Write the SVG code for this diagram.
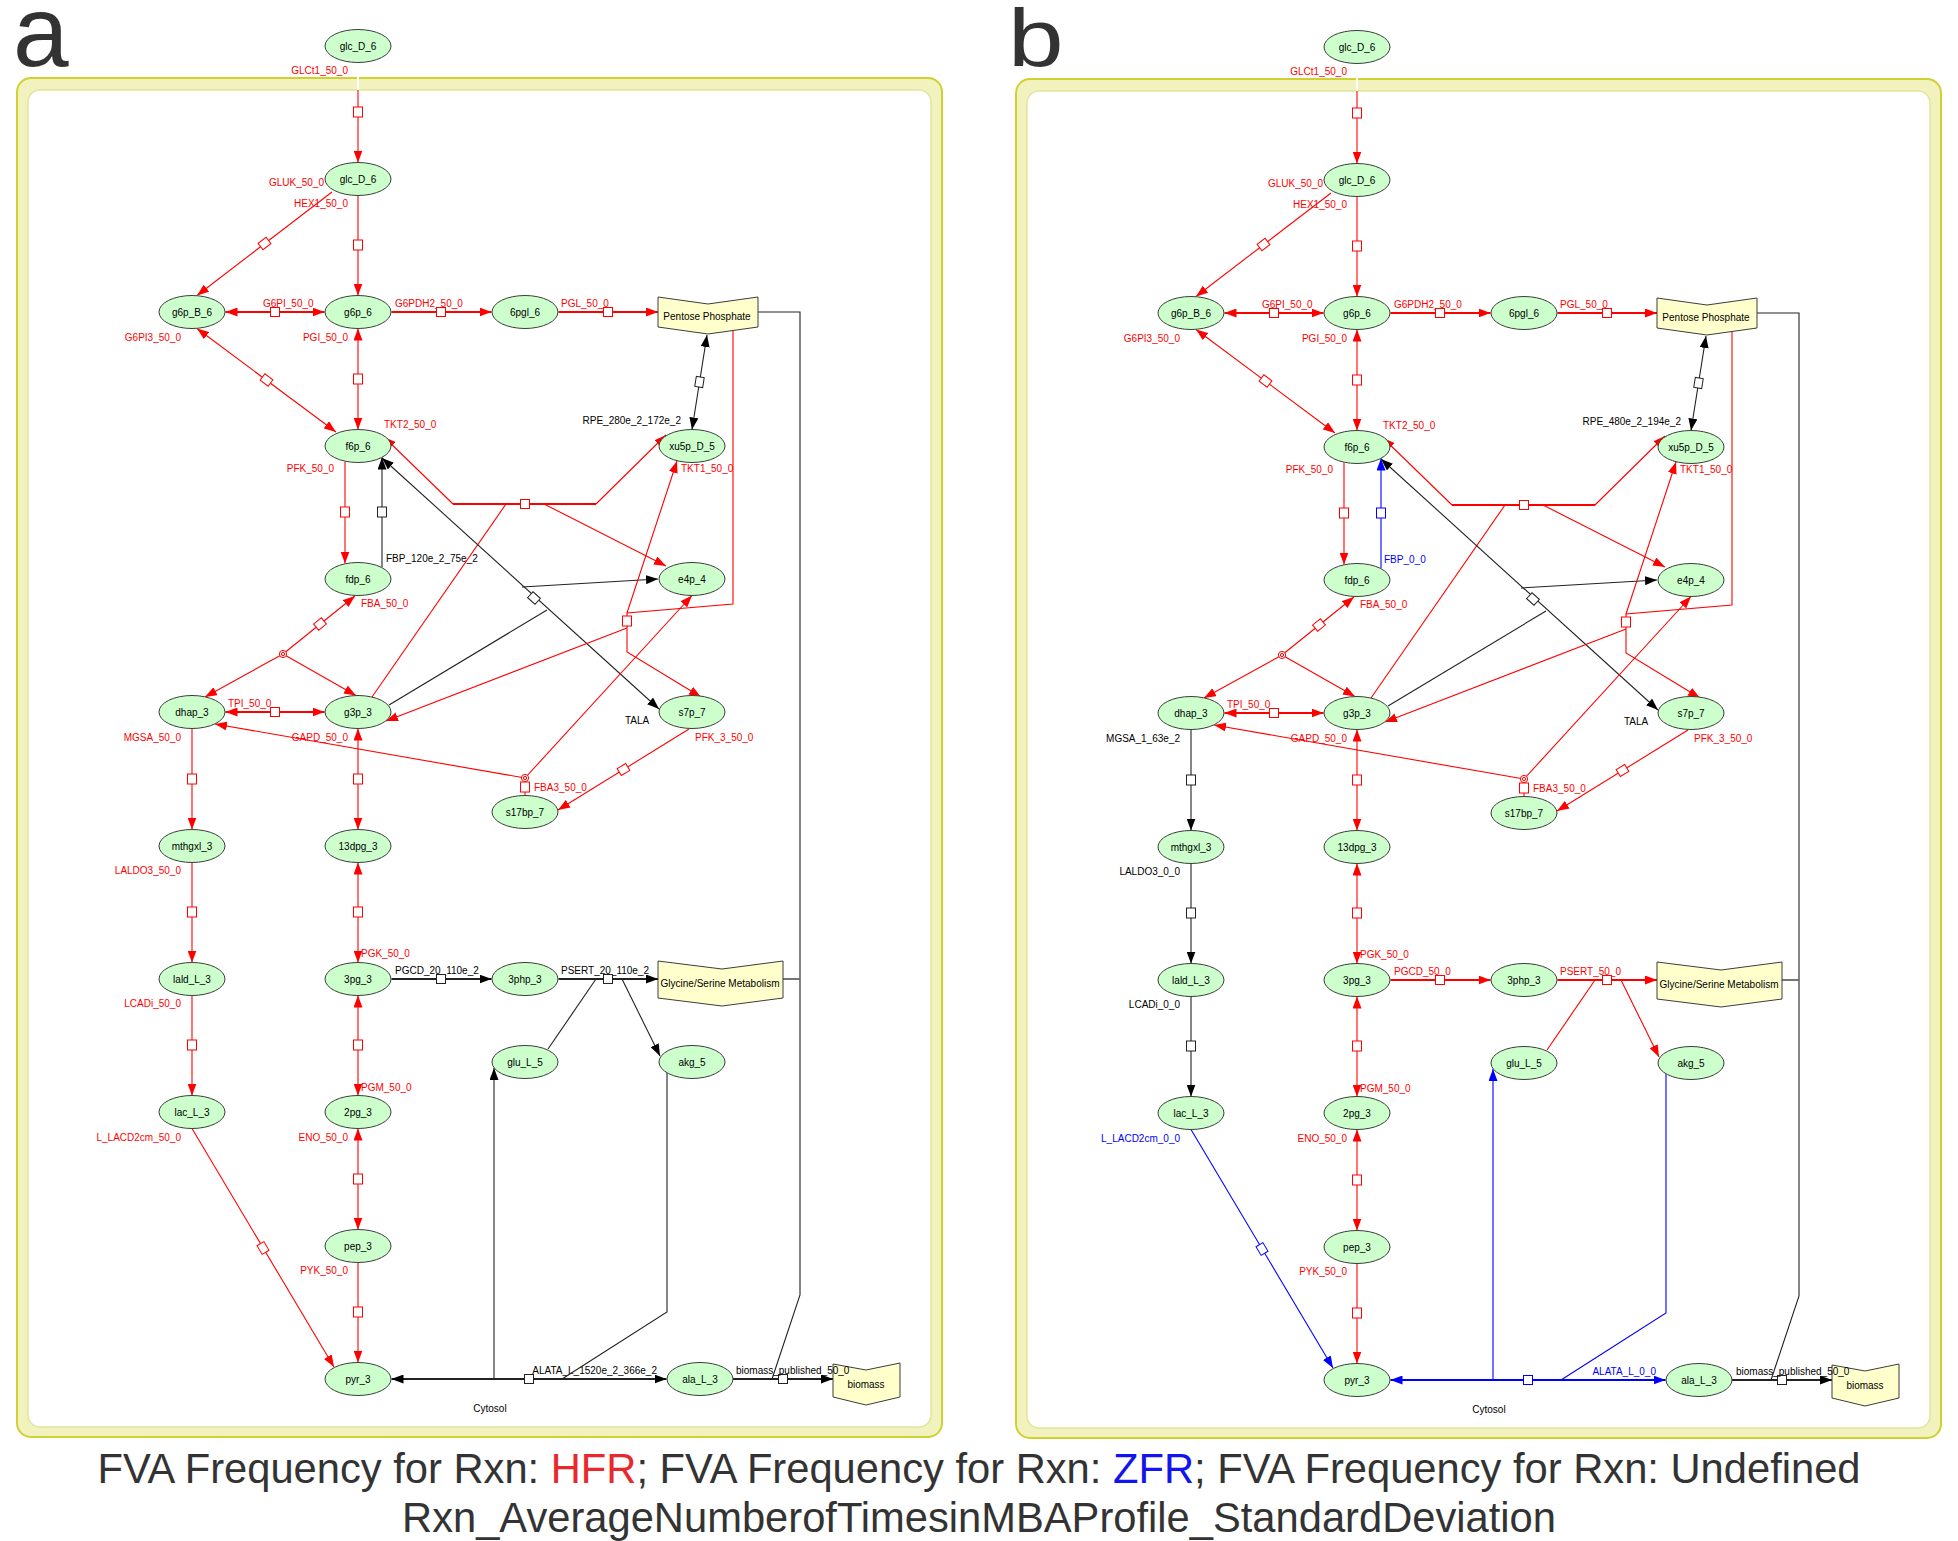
<svg xmlns="http://www.w3.org/2000/svg" width="1958" height="1541" viewBox="0 0 1958 1541">
<defs>
<style>
text{font-family:'Liberation Sans',Arial,Helvetica,sans-serif}
.n{fill:#ccffcc;stroke:#3c3c3c;stroke-width:1}
.s{fill:#ffffcc;stroke:#3c3c3c;stroke-width:1}
.t{font-size:10px;text-anchor:middle;fill:#000}
.l{font-size:10px;fill:#f00}
.e{text-anchor:end}
.lk{fill:#000}
.lb{fill:#00f}
.c{fill:none;stroke-width:1.1}
.r{stroke:#f00}
.k{stroke:#222}
.u{stroke:#00f}
.g{stroke:#666}
.w{stroke-width:1.8}
.x{fill:#fff;stroke-width:1}
.ci{fill:#fff;stroke:#f00;stroke-width:1}
.o1{fill:#f2f2be;stroke:#d0d030;stroke-width:2}
.o2{fill:#fff;stroke:#e4e49c;stroke-width:1.5}
</style>
<marker id="mr" viewBox="0 0 12 9" refX="12" refY="4.5" markerWidth="12" markerHeight="9" markerUnits="userSpaceOnUse" orient="auto-start-reverse"><path d="M0,0L12,4.5L0,9z" fill="#f00"/></marker>
<marker id="mk" viewBox="0 0 12 9" refX="12" refY="4.5" markerWidth="12" markerHeight="9" markerUnits="userSpaceOnUse" orient="auto-start-reverse"><path d="M0,0L12,4.5L0,9z" fill="#000"/></marker>
<marker id="mu" viewBox="0 0 12 9" refX="12" refY="4.5" markerWidth="12" markerHeight="9" markerUnits="userSpaceOnUse" orient="auto-start-reverse"><path d="M0,0L12,4.5L0,9z" fill="#00f"/></marker>
</defs>
<rect width="1958" height="1541" fill="#fff"/>

<!-- ================= PANEL A ================= -->
<g id="panel-a">
<text x="13" y="66" font-size="100" fill="#333">a</text>
<g id="a-cytosol">
<rect class="o1" x="17" y="78" width="925" height="1359" rx="14"/>
<rect class="o2" x="28" y="90" width="903" height="1337" rx="12"/>
<text class="t" x="490" y="1412">Cytosol</text>
</g>
<g id="a-labels">
<text class="l e" x="348" y="74">GLCt1_50_0</text>
<text class="l e" x="324" y="186">GLUK_50_0</text>
<text class="l e" x="348" y="207">HEX1_50_0</text>
<text class="l" x="263" y="307">G6PI_50_0</text>
<text class="l" x="395" y="307">G6PDH2_50_0</text>
<text class="l" x="561" y="307">PGL_50_0</text>
<text class="l e" x="181" y="341">G6PI3_50_0</text>
<text class="l e" x="348" y="341">PGI_50_0</text>
<text class="l" x="384" y="428">TKT2_50_0</text>
<text class="l lk e" x="681" y="424">RPE_280e_2_172e_2</text>
<text class="l" x="681" y="472">TKT1_50_0</text>
<text class="l e" x="334" y="472">PFK_50_0</text>
<text class="l lk" x="386" y="562">FBP_120e_2_75e_2</text>
<text class="l" x="361" y="607">FBA_50_0</text>
<text class="l" x="228" y="707">TPI_50_0</text>
<text class="l e" x="181" y="741">MGSA_50_0</text>
<text class="l e" x="348" y="741">GAPD_50_0</text>
<text class="l lk" x="625" y="724">TALA</text>
<text class="l" x="695" y="741">PFK_3_50_0</text>
<text class="l" x="534" y="791">FBA3_50_0</text>
<text class="l e" x="181" y="874">LALDO3_50_0</text>
<text class="l" x="361" y="957">PGK_50_0</text>
<text class="l lk" x="395" y="974">PGCD_20_110e_2</text>
<text class="l lk" x="561" y="974">PSERT_20_110e_2</text>
<text class="l e" x="181" y="1007">LCADi_50_0</text>
<text class="l" x="361" y="1091">PGM_50_0</text>
<text class="l e" x="181" y="1141">L_LACD2cm_50_0</text>
<text class="l e" x="348" y="1141">ENO_50_0</text>
<text class="l e" x="348" y="1274">PYK_50_0</text>
<text class="l lk e" x="657" y="1374">ALATA_L_1520e_2_366e_2</text>
</g>
<g id="a-connectors">
<path d="M358,62V90" stroke="#fff" stroke-width="2"/>
<path class="c r" d="M358,90V162.5" marker-end="url(#mr)"/><rect class="x r" x="353.5" y="107" width="9" height="10"/>
<path class="c r" d="M332,192L197,295.5" marker-end="url(#mr)"/><rect class="x r" x="-5" y="-4" width="10" height="8" transform="translate(264.5,243.5) rotate(142.7)"/>
<path class="c r" d="M358,195.5V295.5" marker-end="url(#mr)"/><rect class="x r" x="353.5" y="240" width="9" height="10"/>
<path class="c r w" d="M225.5,312H324.5" marker-start="url(#mr)" marker-end="url(#mr)"/><rect class="x r" x="270.5" y="307.5" width="9" height="9"/>
<path class="c r w" d="M391.5,312H491.5" marker-end="url(#mr)"/><rect class="x r" x="436.5" y="307.5" width="9" height="9"/>
<path class="c r w" d="M558.5,312H658" marker-end="url(#mr)"/><rect class="x r" x="603.5" y="307.5" width="9" height="9"/>
<path class="c r" d="M197,328.5L336,432" marker-start="url(#mr)" marker-end="url(#mr)"/><rect class="x r" x="-5" y="-4" width="10" height="8" transform="translate(266.5,380) rotate(36.7)"/>
<path class="c r" d="M358,328.5V429.5" marker-start="url(#mr)" marker-end="url(#mr)"/><rect class="x r" x="353.5" y="374" width="9" height="10"/>
<path class="c k" d="M707,335L692,429.5" marker-start="url(#mk)" marker-end="url(#mk)"/><rect class="x k" x="-5" y="-4" width="10" height="8" transform="translate(699.5,382) rotate(99)"/>
<path class="c r" d="M453,504L384,437" marker-end="url(#mr)"/>
<path class="c r w" d="M453,504H596"/>
<path class="c r" d="M596,504L666,435" marker-end="url(#mr)"/>
<path class="c r" d="M506,504L372,697"/>
<path class="c r" d="M544,504L666,566" marker-end="url(#mr)"/>
<rect class="x r" x="520.5" y="499.5" width="9" height="9"/>
<path class="c k" d="M382,458L659,709" marker-start="url(#mk)" marker-end="url(#mk)"/>
<path class="c k" d="M547,610L389,705"/>
<path class="c k" d="M522,587L658,579" stroke-width="1.5" marker-end="url(#mk)"/>
<rect class="x k" x="-5" y="-4" width="10" height="8" transform="translate(534,598) rotate(42.2)"/>
<path class="c r" d="M733,330.5V604L627,613V652L701,697" marker-end="url(#mr)"/>
<path class="c r" d="M627,613L677,461" marker-end="url(#mr)"/>
<path class="c r" d="M627,628L386,721" marker-end="url(#mr)"/>
<rect class="x r" x="622.5" y="616" width="9" height="10"/>
<path class="c r" d="M345,461.5V563.5" marker-end="url(#mr)"/><rect class="x r" x="340.5" y="507" width="9" height="10"/>
<path class="c k" d="M382,567.5V457.5" marker-end="url(#mk)"/><rect class="x k" x="377.5" y="507" width="9" height="10"/>
<path class="c r" d="M283,654L355,596" marker-end="url(#mr)"/>
<path class="c r" d="M283,654L205,697" marker-end="url(#mr)"/>
<path class="c r" d="M283,654L356,695.5" marker-end="url(#mr)"/>
<rect class="x r" x="-5" y="-4" width="10" height="8" transform="translate(320,624) rotate(-38.9)"/>
<circle class="ci" cx="283" cy="654" r="3.6"/><circle class="ci" cx="283" cy="654" r="1.6"/>
<path class="c r" d="M525,795.5V778"/>
<path class="c r" d="M525,778L215,724" marker-end="url(#mr)"/>
<path class="c r" d="M525,778L692,595.5" marker-end="url(#mr)"/>
<rect class="x r" x="520.5" y="782" width="9" height="10"/>
<circle class="ci" cx="525" cy="778" r="3.6"/><circle class="ci" cx="525" cy="778" r="1.6"/>
<path class="c r" d="M689,729L558,810" marker-end="url(#mr)"/><rect class="x r" x="-5" y="-4" width="10" height="8" transform="translate(623.5,769.5) rotate(148.6)"/>
<path class="c r w" d="M225.5,712H324.5" marker-start="url(#mr)" marker-end="url(#mr)"/><rect class="x r" x="270.5" y="707.5" width="9" height="9"/>
<path class="c r" d="M192,728.5V829.5" marker-end="url(#mr)"/><rect class="x r" x="187.5" y="774" width="9" height="10"/>
<path class="c r" d="M358,728.5V829.5" marker-start="url(#mr)" marker-end="url(#mr)"/><rect class="x r" x="353.5" y="774" width="9" height="10"/>
<path class="c r" d="M192,862.5V962.5" marker-end="url(#mr)"/><rect class="x r" x="187.5" y="907" width="9" height="10"/>
<path class="c r" d="M358,862.5V962.5" marker-start="url(#mr)" marker-end="url(#mr)"/><rect class="x r" x="353.5" y="907" width="9" height="10"/>
<path class="c k w" d="M391.5,979H491.5" marker-end="url(#mk)"/><rect class="x k" x="436.5" y="974.5" width="9" height="9"/>
<path class="c k w" d="M558.5,979H658" marker-end="url(#mk)"/>
<path class="c k" d="M548,1049L596,979"/>
<path class="c k" d="M622,979L660,1056" marker-end="url(#mk)"/>
<rect class="x k" x="603.5" y="974.5" width="9" height="9"/>
<path class="c r" d="M192,995.5V1095.5" marker-end="url(#mr)"/><rect class="x r" x="187.5" y="1040" width="9" height="10"/>
<path class="c r" d="M358,995.5V1095.5" marker-start="url(#mr)" marker-end="url(#mr)"/><rect class="x r" x="353.5" y="1040" width="9" height="10"/>
<path class="c r" d="M192,1128.5L334,1367" marker-end="url(#mr)"/><rect class="x r" x="-5" y="-4" width="10" height="8" transform="translate(263,1248) rotate(59.2)"/>
<path class="c r" d="M358,1128.5V1229.5" marker-start="url(#mr)" marker-end="url(#mr)"/><rect class="x r" x="353.5" y="1174" width="9" height="10"/>
<path class="c r" d="M358,1262.5V1362.5" marker-end="url(#mr)"/><rect class="x r" x="353.5" y="1307" width="9" height="10"/>
<path class="c k w" d="M391.5,1379H666.5" marker-start="url(#mk)" marker-end="url(#mk)"/>
<path class="c k" d="M494,1379V1068" marker-end="url(#mk)"/>
<path class="c k" d="M667,1073V1312L562,1379"/>
<rect class="x k" x="524.5" y="1374.5" width="9" height="9"/>
<path class="c k w" d="M733,1379H833" marker-end="url(#mk)"/>
<path class="c k" d="M758,312H800V1295L772,1379"/>
<path class="c g w" d="M783,979H800"/>
<rect class="x k" x="778.5" y="1374.5" width="9" height="9"/>
</g>
<g id="a-glc_D_6-e"><ellipse class="n" cx="358" cy="46" rx="33" ry="16.5"/><text class="t" x="358" y="49.5">glc_D_6</text></g>
<g id="a-glc_D_6"><ellipse class="n" cx="358" cy="179" rx="33" ry="16.5"/><text class="t" x="358" y="182.5">glc_D_6</text></g>
<g id="a-g6p_B_6"><ellipse class="n" cx="192" cy="312" rx="33" ry="16.5"/><text class="t" x="192" y="315.5">g6p_B_6</text></g>
<g id="a-g6p_6"><ellipse class="n" cx="358" cy="312" rx="33" ry="16.5"/><text class="t" x="358" y="315.5">g6p_6</text></g>
<g id="a-6pgl_6"><ellipse class="n" cx="525" cy="312" rx="33" ry="16.5"/><text class="t" x="525" y="315.5">6pgl_6</text></g>
<g id="a-pentose"><polygon class="s" points="658,297 708,304 758,297 758,327 708,334 658,327"/><text class="t" x="707" y="320">Pentose Phosphate</text></g>
<g id="a-f6p_6"><ellipse class="n" cx="358" cy="446" rx="33" ry="16.5"/><text class="t" x="358" y="449.5">f6p_6</text></g>
<g id="a-xu5p_D_5"><ellipse class="n" cx="692" cy="446" rx="33" ry="16.5"/><text class="t" x="692" y="449.5">xu5p_D_5</text></g>
<g id="a-fdp_6"><ellipse class="n" cx="358" cy="579" rx="33" ry="16.5"/><text class="t" x="358" y="582.5">fdp_6</text></g>
<g id="a-e4p_4"><ellipse class="n" cx="692" cy="579" rx="33" ry="16.5"/><text class="t" x="692" y="582.5">e4p_4</text></g>
<g id="a-dhap_3"><ellipse class="n" cx="192" cy="712" rx="33" ry="16.5"/><text class="t" x="192" y="715.5">dhap_3</text></g>
<g id="a-g3p_3"><ellipse class="n" cx="358" cy="712" rx="33" ry="16.5"/><text class="t" x="358" y="715.5">g3p_3</text></g>
<g id="a-s7p_7"><ellipse class="n" cx="692" cy="712" rx="33" ry="16.5"/><text class="t" x="692" y="715.5">s7p_7</text></g>
<g id="a-s17bp_7"><ellipse class="n" cx="525" cy="812" rx="33" ry="16.5"/><text class="t" x="525" y="815.5">s17bp_7</text></g>
<g id="a-mthgxl_3"><ellipse class="n" cx="192" cy="846" rx="33" ry="16.5"/><text class="t" x="192" y="849.5">mthgxl_3</text></g>
<g id="a-13dpg_3"><ellipse class="n" cx="358" cy="846" rx="33" ry="16.5"/><text class="t" x="358" y="849.5">13dpg_3</text></g>
<g id="a-lald_L_3"><ellipse class="n" cx="192" cy="979" rx="33" ry="16.5"/><text class="t" x="192" y="982.5">lald_L_3</text></g>
<g id="a-3pg_3"><ellipse class="n" cx="358" cy="979" rx="33" ry="16.5"/><text class="t" x="358" y="982.5">3pg_3</text></g>
<g id="a-3php_3"><ellipse class="n" cx="525" cy="979" rx="33" ry="16.5"/><text class="t" x="525" y="982.5">3php_3</text></g>
<g id="a-glyser"><polygon class="s" points="658,961 722,969 783,961 783,998 722,1006 658,998"/><text class="t" x="720" y="987">Glycine/Serine Metabolism</text></g>
<g id="a-glu_L_5"><ellipse class="n" cx="525" cy="1062" rx="33" ry="16.5"/><text class="t" x="525" y="1065.5">glu_L_5</text></g>
<g id="a-akg_5"><ellipse class="n" cx="692" cy="1062" rx="33" ry="16.5"/><text class="t" x="692" y="1065.5">akg_5</text></g>
<g id="a-lac_L_3"><ellipse class="n" cx="192" cy="1112" rx="33" ry="16.5"/><text class="t" x="192" y="1115.5">lac_L_3</text></g>
<g id="a-2pg_3"><ellipse class="n" cx="358" cy="1112" rx="33" ry="16.5"/><text class="t" x="358" y="1115.5">2pg_3</text></g>
<g id="a-pep_3"><ellipse class="n" cx="358" cy="1246" rx="33" ry="16.5"/><text class="t" x="358" y="1249.5">pep_3</text></g>
<g id="a-pyr_3"><ellipse class="n" cx="358" cy="1379" rx="33" ry="16.5"/><text class="t" x="358" y="1382.5">pyr_3</text></g>
<g id="a-ala_L_3"><ellipse class="n" cx="700" cy="1379" rx="33" ry="16.5"/><text class="t" x="700" y="1382.5">ala_L_3</text></g>
<g id="a-biomass"><polygon class="s" points="833,1364 866,1370 900,1363 900,1397 866,1405 833,1397"/><text class="t" x="866" y="1388">biomass</text></g>
<text class="l lk" x="736" y="1374">biomass_published_50_0</text>
</g>

<!-- ================= PANEL B ================= -->
<g id="panel-b" transform="translate(999,1)">
<text transform="translate(9,65) scale(1,0.82)" font-size="100" fill="#333">b</text>
<g id="b-cytosol">
<rect class="o1" x="17" y="78" width="925" height="1359" rx="14"/>
<rect class="o2" x="28" y="90" width="903" height="1337" rx="12"/>
<text class="t" x="490" y="1412">Cytosol</text>
</g>
<g id="b-labels">
<text class="l e" x="348" y="74">GLCt1_50_0</text>
<text class="l e" x="324" y="186">GLUK_50_0</text>
<text class="l e" x="348" y="207">HEX1_50_0</text>
<text class="l" x="263" y="307">G6PI_50_0</text>
<text class="l" x="395" y="307">G6PDH2_50_0</text>
<text class="l" x="561" y="307">PGL_50_0</text>
<text class="l e" x="181" y="341">G6PI3_50_0</text>
<text class="l e" x="348" y="341">PGI_50_0</text>
<text class="l" x="384" y="428">TKT2_50_0</text>
<text class="l lk e" x="682" y="424">RPE_480e_2_194e_2</text>
<text class="l" x="681" y="472">TKT1_50_0</text>
<text class="l e" x="334" y="472">PFK_50_0</text>
<text class="l lb" x="385" y="562">FBP_0_0</text>
<text class="l" x="361" y="607">FBA_50_0</text>
<text class="l" x="228" y="707">TPI_50_0</text>
<text class="l lk e" x="181" y="741">MGSA_1_63e_2</text>
<text class="l e" x="348" y="741">GAPD_50_0</text>
<text class="l lk" x="625" y="724">TALA</text>
<text class="l" x="695" y="741">PFK_3_50_0</text>
<text class="l" x="534" y="791">FBA3_50_0</text>
<text class="l lk e" x="181" y="874">LALDO3_0_0</text>
<text class="l" x="361" y="957">PGK_50_0</text>
<text class="l" x="395" y="974">PGCD_50_0</text>
<text class="l" x="561" y="974">PSERT_50_0</text>
<text class="l lk e" x="181" y="1007">LCADi_0_0</text>
<text class="l" x="361" y="1091">PGM_50_0</text>
<text class="l lb e" x="181" y="1141">L_LACD2cm_0_0</text>
<text class="l e" x="348" y="1141">ENO_50_0</text>
<text class="l e" x="348" y="1274">PYK_50_0</text>
<text class="l lb e" x="657" y="1374">ALATA_L_0_0</text>
</g>
<g id="b-connectors">
<path d="M358,62V90" stroke="#fff" stroke-width="2"/>
<path class="c r" d="M358,90V162.5" marker-end="url(#mr)"/><rect class="x r" x="353.5" y="107" width="9" height="10"/>
<path class="c r" d="M332,192L197,295.5" marker-end="url(#mr)"/><rect class="x r" x="-5" y="-4" width="10" height="8" transform="translate(264.5,243.5) rotate(142.7)"/>
<path class="c r" d="M358,195.5V295.5" marker-end="url(#mr)"/><rect class="x r" x="353.5" y="240" width="9" height="10"/>
<path class="c r w" d="M225.5,312H324.5" marker-start="url(#mr)" marker-end="url(#mr)"/><rect class="x r" x="270.5" y="307.5" width="9" height="9"/>
<path class="c r w" d="M391.5,312H491.5" marker-end="url(#mr)"/><rect class="x r" x="436.5" y="307.5" width="9" height="9"/>
<path class="c r w" d="M558.5,312H658" marker-end="url(#mr)"/><rect class="x r" x="603.5" y="307.5" width="9" height="9"/>
<path class="c r" d="M197,328.5L336,432" marker-start="url(#mr)" marker-end="url(#mr)"/><rect class="x r" x="-5" y="-4" width="10" height="8" transform="translate(266.5,380) rotate(36.7)"/>
<path class="c r" d="M358,328.5V429.5" marker-start="url(#mr)" marker-end="url(#mr)"/><rect class="x r" x="353.5" y="374" width="9" height="10"/>
<path class="c k" d="M707,335L692,429.5" marker-start="url(#mk)" marker-end="url(#mk)"/><rect class="x k" x="-5" y="-4" width="10" height="8" transform="translate(699.5,382) rotate(99)"/>
<path class="c r" d="M453,504L384,437" marker-end="url(#mr)"/>
<path class="c r w" d="M453,504H596"/>
<path class="c r" d="M596,504L666,435" marker-end="url(#mr)"/>
<path class="c r" d="M506,504L372,697"/>
<path class="c r" d="M544,504L666,566" marker-end="url(#mr)"/>
<rect class="x r" x="520.5" y="499.5" width="9" height="9"/>
<path class="c k" d="M382,458L659,709" marker-start="url(#mk)" marker-end="url(#mk)"/>
<path class="c k" d="M547,610L389,705"/>
<path class="c k" d="M522,587L658,579" stroke-width="1.5" marker-end="url(#mk)"/>
<rect class="x k" x="-5" y="-4" width="10" height="8" transform="translate(534,598) rotate(42.2)"/>
<path class="c r" d="M733,330.5V604L627,613V652L701,697" marker-end="url(#mr)"/>
<path class="c r" d="M627,613L677,461" marker-end="url(#mr)"/>
<path class="c r" d="M627,628L386,721" marker-end="url(#mr)"/>
<rect class="x r" x="622.5" y="616" width="9" height="10"/>
<path class="c r" d="M345,461.5V563.5" marker-end="url(#mr)"/><rect class="x r" x="340.5" y="507" width="9" height="10"/>
<path class="c u" d="M382,567.5V457.5" marker-end="url(#mu)"/><rect class="x u" x="377.5" y="507" width="9" height="10"/>
<path class="c r" d="M283,654L355,596" marker-end="url(#mr)"/>
<path class="c r" d="M283,654L205,697" marker-end="url(#mr)"/>
<path class="c r" d="M283,654L356,695.5" marker-end="url(#mr)"/>
<rect class="x r" x="-5" y="-4" width="10" height="8" transform="translate(320,624) rotate(-38.9)"/>
<circle class="ci" cx="283" cy="654" r="3.6"/><circle class="ci" cx="283" cy="654" r="1.6"/>
<path class="c r" d="M525,795.5V778"/>
<path class="c r" d="M525,778L215,724" marker-end="url(#mr)"/>
<path class="c r" d="M525,778L692,595.5" marker-end="url(#mr)"/>
<rect class="x r" x="520.5" y="782" width="9" height="10"/>
<circle class="ci" cx="525" cy="778" r="3.6"/><circle class="ci" cx="525" cy="778" r="1.6"/>
<path class="c r" d="M689,729L558,810" marker-end="url(#mr)"/><rect class="x r" x="-5" y="-4" width="10" height="8" transform="translate(623.5,769.5) rotate(148.6)"/>
<path class="c r w" d="M225.5,712H324.5" marker-start="url(#mr)" marker-end="url(#mr)"/><rect class="x r" x="270.5" y="707.5" width="9" height="9"/>
<path class="c k" d="M192,728.5V829.5" marker-end="url(#mk)"/><rect class="x k" x="187.5" y="774" width="9" height="10"/>
<path class="c r" d="M358,728.5V829.5" marker-start="url(#mr)" marker-end="url(#mr)"/><rect class="x r" x="353.5" y="774" width="9" height="10"/>
<path class="c k" d="M192,862.5V962.5" marker-end="url(#mk)"/><rect class="x k" x="187.5" y="907" width="9" height="10"/>
<path class="c r" d="M358,862.5V962.5" marker-start="url(#mr)" marker-end="url(#mr)"/><rect class="x r" x="353.5" y="907" width="9" height="10"/>
<path class="c r w" d="M391.5,979H491.5" marker-end="url(#mr)"/><rect class="x r" x="436.5" y="974.5" width="9" height="9"/>
<path class="c r w" d="M558.5,979H658" marker-end="url(#mr)"/>
<path class="c r" d="M548,1049L596,979"/>
<path class="c r" d="M622,979L660,1056" marker-end="url(#mr)"/>
<rect class="x r" x="603.5" y="974.5" width="9" height="9"/>
<path class="c k" d="M192,995.5V1095.5" marker-end="url(#mk)"/><rect class="x k" x="187.5" y="1040" width="9" height="10"/>
<path class="c r" d="M358,995.5V1095.5" marker-start="url(#mr)" marker-end="url(#mr)"/><rect class="x r" x="353.5" y="1040" width="9" height="10"/>
<path class="c u" d="M192,1128.5L334,1367" marker-end="url(#mu)"/><rect class="x u" x="-5" y="-4" width="10" height="8" transform="translate(263,1248) rotate(59.2)"/>
<path class="c r" d="M358,1128.5V1229.5" marker-start="url(#mr)" marker-end="url(#mr)"/><rect class="x r" x="353.5" y="1174" width="9" height="10"/>
<path class="c r" d="M358,1262.5V1362.5" marker-end="url(#mr)"/><rect class="x r" x="353.5" y="1307" width="9" height="10"/>
<path class="c u w" d="M391.5,1379H666.5" marker-start="url(#mu)" marker-end="url(#mu)"/>
<path class="c u" d="M494,1379V1068" marker-end="url(#mu)"/>
<path class="c u" d="M667,1073V1312L562,1379"/>
<rect class="x u" x="524.5" y="1374.5" width="9" height="9"/>
<path class="c k w" d="M733,1379H833" marker-end="url(#mk)"/>
<path class="c k" d="M758,312H800V1295L772,1379"/>
<path class="c g w" d="M783,979H800"/>
<rect class="x k" x="778.5" y="1374.5" width="9" height="9"/>
</g>
<g id="b-glc_D_6-e"><ellipse class="n" cx="358" cy="46" rx="33" ry="16.5"/><text class="t" x="358" y="49.5">glc_D_6</text></g>
<g id="b-glc_D_6"><ellipse class="n" cx="358" cy="179" rx="33" ry="16.5"/><text class="t" x="358" y="182.5">glc_D_6</text></g>
<g id="b-g6p_B_6"><ellipse class="n" cx="192" cy="312" rx="33" ry="16.5"/><text class="t" x="192" y="315.5">g6p_B_6</text></g>
<g id="b-g6p_6"><ellipse class="n" cx="358" cy="312" rx="33" ry="16.5"/><text class="t" x="358" y="315.5">g6p_6</text></g>
<g id="b-6pgl_6"><ellipse class="n" cx="525" cy="312" rx="33" ry="16.5"/><text class="t" x="525" y="315.5">6pgl_6</text></g>
<g id="b-pentose"><polygon class="s" points="658,297 708,304 758,297 758,327 708,334 658,327"/><text class="t" x="707" y="320">Pentose Phosphate</text></g>
<g id="b-f6p_6"><ellipse class="n" cx="358" cy="446" rx="33" ry="16.5"/><text class="t" x="358" y="449.5">f6p_6</text></g>
<g id="b-xu5p_D_5"><ellipse class="n" cx="692" cy="446" rx="33" ry="16.5"/><text class="t" x="692" y="449.5">xu5p_D_5</text></g>
<g id="b-fdp_6"><ellipse class="n" cx="358" cy="579" rx="33" ry="16.5"/><text class="t" x="358" y="582.5">fdp_6</text></g>
<g id="b-e4p_4"><ellipse class="n" cx="692" cy="579" rx="33" ry="16.5"/><text class="t" x="692" y="582.5">e4p_4</text></g>
<g id="b-dhap_3"><ellipse class="n" cx="192" cy="712" rx="33" ry="16.5"/><text class="t" x="192" y="715.5">dhap_3</text></g>
<g id="b-g3p_3"><ellipse class="n" cx="358" cy="712" rx="33" ry="16.5"/><text class="t" x="358" y="715.5">g3p_3</text></g>
<g id="b-s7p_7"><ellipse class="n" cx="692" cy="712" rx="33" ry="16.5"/><text class="t" x="692" y="715.5">s7p_7</text></g>
<g id="b-s17bp_7"><ellipse class="n" cx="525" cy="812" rx="33" ry="16.5"/><text class="t" x="525" y="815.5">s17bp_7</text></g>
<g id="b-mthgxl_3"><ellipse class="n" cx="192" cy="846" rx="33" ry="16.5"/><text class="t" x="192" y="849.5">mthgxl_3</text></g>
<g id="b-13dpg_3"><ellipse class="n" cx="358" cy="846" rx="33" ry="16.5"/><text class="t" x="358" y="849.5">13dpg_3</text></g>
<g id="b-lald_L_3"><ellipse class="n" cx="192" cy="979" rx="33" ry="16.5"/><text class="t" x="192" y="982.5">lald_L_3</text></g>
<g id="b-3pg_3"><ellipse class="n" cx="358" cy="979" rx="33" ry="16.5"/><text class="t" x="358" y="982.5">3pg_3</text></g>
<g id="b-3php_3"><ellipse class="n" cx="525" cy="979" rx="33" ry="16.5"/><text class="t" x="525" y="982.5">3php_3</text></g>
<g id="b-glyser"><polygon class="s" points="658,961 722,969 783,961 783,998 722,1006 658,998"/><text class="t" x="720" y="987">Glycine/Serine Metabolism</text></g>
<g id="b-glu_L_5"><ellipse class="n" cx="525" cy="1062" rx="33" ry="16.5"/><text class="t" x="525" y="1065.5">glu_L_5</text></g>
<g id="b-akg_5"><ellipse class="n" cx="692" cy="1062" rx="33" ry="16.5"/><text class="t" x="692" y="1065.5">akg_5</text></g>
<g id="b-lac_L_3"><ellipse class="n" cx="192" cy="1112" rx="33" ry="16.5"/><text class="t" x="192" y="1115.5">lac_L_3</text></g>
<g id="b-2pg_3"><ellipse class="n" cx="358" cy="1112" rx="33" ry="16.5"/><text class="t" x="358" y="1115.5">2pg_3</text></g>
<g id="b-pep_3"><ellipse class="n" cx="358" cy="1246" rx="33" ry="16.5"/><text class="t" x="358" y="1249.5">pep_3</text></g>
<g id="b-pyr_3"><ellipse class="n" cx="358" cy="1379" rx="33" ry="16.5"/><text class="t" x="358" y="1382.5">pyr_3</text></g>
<g id="b-ala_L_3"><ellipse class="n" cx="700" cy="1379" rx="33" ry="16.5"/><text class="t" x="700" y="1382.5">ala_L_3</text></g>
<g id="b-biomass"><polygon class="s" points="833,1364 866,1370 900,1363 900,1397 866,1405 833,1397"/><text class="t" x="866" y="1388">biomass</text></g>
<text class="l lk" x="737" y="1374">biomass_published_50_0</text>
</g>

<g id="caption" fill="#333" font-size="41.7" text-anchor="middle">
<text x="979" y="1483">FVA Frequency for Rxn: <tspan fill="#e8282c">HFR</tspan>; FVA Frequency for Rxn: <tspan fill="#1414f0">ZFR</tspan>; FVA Frequency for Rxn: Undefined</text>
<text x="979" y="1532">Rxn_AverageNumberofTimesinMBAProfile_StandardDeviation</text>
</g>
</svg>
